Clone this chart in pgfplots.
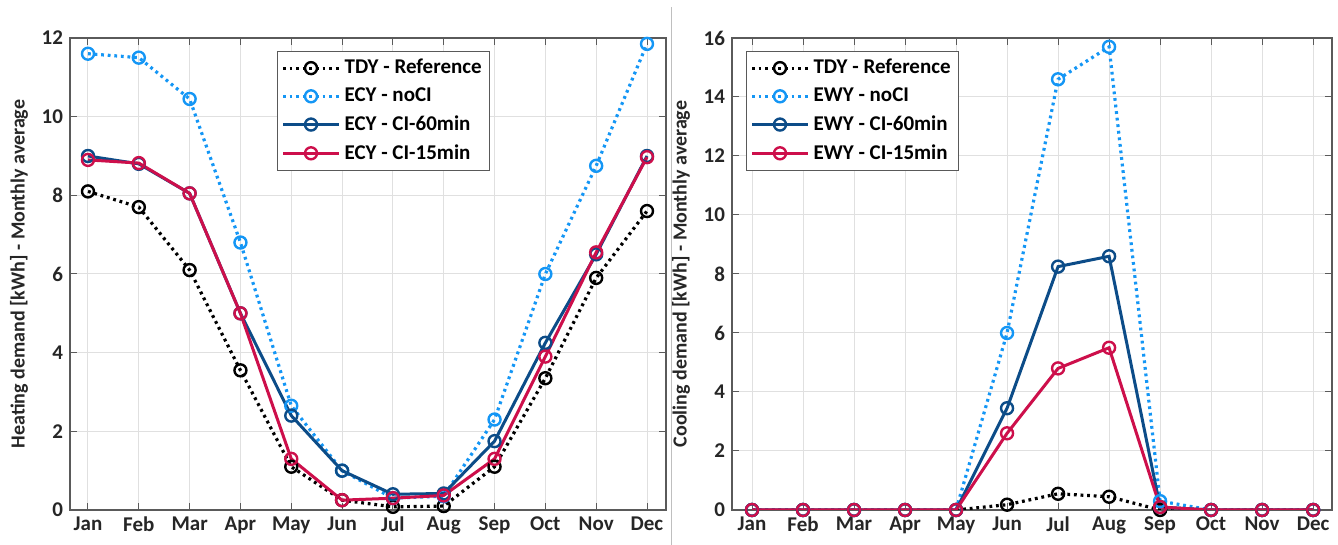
\documentclass[border=0pt]{standalone}
\usepackage{fontspec}
\setmainfont{Carlito}
\usepackage{pgfplots}
\pgfplotsset{compat=1.18}
\definecolor{lblue}{RGB}{20,150,245}
\definecolor{dblue}{RGB}{12,76,136}
\definecolor{crim}{RGB}{205,15,75}
\definecolor{axgray}{RGB}{90,90,90}
\pgfplotsset{mystyle/.style={
  scale only axis, height=236pt,
  xtick={1,...,12},
  xticklabels={Jan,Feb,Mar,Apr,May,Jun,Jul,Aug,Sep,Oct,Nov,Dec},
  ymin=0,
  grid=major, major grid style={black!12, line width=0.5pt},
  axis line style={axgray, line width=0.6pt},
  tick style={axgray, line width=0.5pt}, tick align=inside, major tick length=3.5pt,
  ticklabel style={font=\bfseries\fontsize{10.5}{12}\selectfont, text=black!85},
  /pgf/number format/assume math mode=true,
  label style={font=\bfseries\fontsize{10}{12}\selectfont, text=black!85},
  legend style={font=\bfseries\fontsize{10.5}{12}\selectfont, draw=black!65, line width=0.6pt,
     fill=white, inner sep=2pt, row sep=1.5pt, cells={anchor=west}},
  legend cell align=left,
  legend image code/.code={\draw[mark repeat=2,mark phase=2,##1] plot coordinates {(0pt,0pt)(14pt,0pt)(28pt,0pt)};},
  every axis plot/.append style={line width=1.5pt, mark=o, mark size=3pt, mark options={solid, line width=1.2pt}},
  dotstyle/.style={line width=1.6pt, dash pattern=on 1.4pt off 1.9pt},
}}
\begin{document}
\begin{tikzpicture}
\begin{axis}[mystyle, width=298pt, xmin=0.646, xmax=12.374, ymax=12, ytick={0,2,...,12},
  ylabel={Heating demand [kWh] - Monthly average},
  legend style={at={(0.347,0.973)}, anchor=north west}]
\addplot[black, dotstyle] coordinates {(1,8.1)(2,7.7)(3,6.1)(4,3.55)(5,1.1)(6,0.25)(7,0.08)(8,0.1)(9,1.1)(10,3.35)(11,5.9)(12,7.6)};
\addlegendentry{TDY - Reference}
\addplot[lblue, dotstyle] coordinates {(1,11.6)(2,11.5)(3,10.45)(4,6.8)(5,2.65)(6,1.0)(7,0.3)(8,0.35)(9,2.3)(10,6.0)(11,8.75)(12,11.85)};
\addlegendentry{ECY - noCI}
\addplot[dblue] coordinates {(1,9.0)(2,8.8)(3,8.05)(4,5.0)(5,2.4)(6,1.0)(7,0.4)(8,0.42)(9,1.75)(10,4.25)(11,6.5)(12,9.0)};
\addlegendentry{ECY - CI-60min}
\addplot[crim] coordinates {(1,8.9)(2,8.82)(3,8.05)(4,5.0)(5,1.3)(6,0.25)(7,0.3)(8,0.37)(9,1.3)(10,3.9)(11,6.55)(12,8.97)};
\addlegendentry{ECY - CI-15min}
\node[anchor=south west, font=\fontsize{11}{12}\selectfont, text=black!85, inner sep=1pt] at (rel axis cs:0,1.005) {$\times10^{6}$};
\end{axis}
\begin{axis}[mystyle, width=300pt, xmin=0.608, xmax=12.37, at={(331pt,0pt)}, ymax=16, ytick={0,2,...,16},
  ylabel={Cooling demand [kWh] - Monthly average},
  legend style={at={(0.023,0.973)}, anchor=north west}]
\addplot[black, dotstyle] coordinates {(1,0)(2,0)(3,0)(4,0)(5,0)(6,0.18)(7,0.55)(8,0.45)(9,0)(10,0)(11,0)(12,0)};
\addlegendentry{TDY - Reference}
\addplot[lblue, dotstyle] coordinates {(1,0)(2,0)(3,0)(4,0)(5,0)(6,6.0)(7,14.6)(8,15.7)(9,0.3)(10,0)(11,0)(12,0)};
\addlegendentry{EWY - noCI}
\addplot[dblue] coordinates {(1,0)(2,0)(3,0)(4,0)(5,0)(6,3.45)(7,8.25)(8,8.6)(9,0.1)(10,0)(11,0)(12,0)};
\addlegendentry{EWY - CI-60min}
\addplot[crim] coordinates {(1,0)(2,0)(3,0)(4,0)(5,0)(6,2.6)(7,4.8)(8,5.5)(9,0.1)(10,0)(11,0)(12,0)};
\addlegendentry{EWY - CI-15min}
\node[anchor=south west, font=\fontsize{11}{12}\selectfont, text=black!85, inner sep=1pt] at (rel axis cs:0,1.005) {$\times10^{5}$};
\end{axis}
\draw[black!25, line width=0.5pt] (300.5pt,-17.5pt) -- (300.5pt,251.5pt);
\pgfresetboundingbox
\useasboundingbox (-35pt,-17.5pt) rectangle (634pt,255pt);
\end{tikzpicture}
\end{document}
